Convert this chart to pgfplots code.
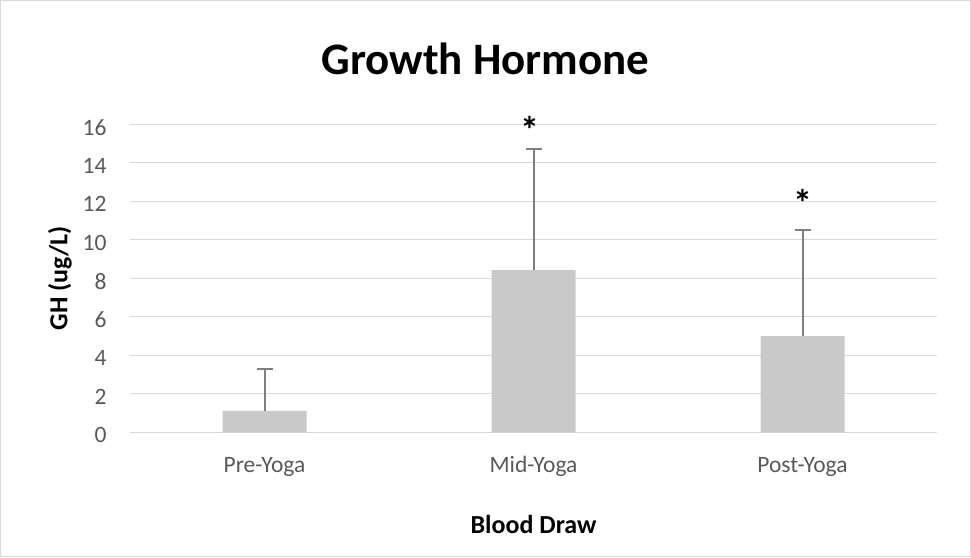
\documentclass[border=0pt]{standalone}
\usepackage{pgfplots}
\pgfplotsset{compat=1.18}
\usepackage{fontspec}
\setmainfont{Carlito}
\definecolor{barfill}{HTML}{C9C9C9}
\definecolor{errcol}{HTML}{7F7F7F}
\definecolor{gridcol}{HTML}{D9D9D9}
\definecolor{tickcol}{HTML}{595959}
\begin{document}
\begin{tikzpicture}[x=1pt,y=1pt]
\useasboundingbox (0,0) rectangle (971,557);
\draw[gridcol, line width=1pt] (0.8,0.8) rectangle (970.2,556.2);
\node[anchor=base, font=\fontsize{45}{50}\selectfont\bfseries] at (485.5,482) {Growth Hormone};
\begin{axis}[
  at={(130pt,124.7pt)}, anchor=south west,
  scale only axis, width=807pt, height=308pt,
  clip=false,
  xmin=-0.5, xmax=2.5, ymin=0, ymax=16,
  xtick={0,1,2}, xticklabels={Pre-Yoga,Mid-Yoga,Post-Yoga},
  ytick={0,2,4,6,8,10,12,14,16},
  major tick length=0pt,
  axis line style={draw=none},
  ymajorgrids, grid style={gridcol, line width=1.3pt},
  /pgf/number format/assume math mode=true,
  tick label style={font=\fontsize{23.5}{28}\selectfont, text=tickcol, inner sep=0pt},
  yticklabel style={anchor=east, xshift=-23.3pt, yshift=-3pt},
  xticklabel style={anchor=base, yshift=-40pt},
  xlabel={Blood Draw}, ylabel={GH (ug/L)},
  every axis x label/.style={at={(axis description cs:0.5,0)}, anchor=base, yshift=-101pt,
     font=\fontsize{26}{30}\selectfont\bfseries, text=black, inner sep=0pt},
  every axis y label/.style={at={(axis description cs:0,0.5)}, xshift=-70pt, rotate=90, anchor=center,
     font=\fontsize{26}{30}\selectfont\bfseries, text=black, inner sep=0pt},
]
\addplot[ybar, bar width=84pt, fill=barfill, draw=none,
  error bars/.cd, y dir=plus, y explicit,
  error bar style={line width=2pt, errcol},
  error mark options={rotate=90, mark size=8pt, line width=2pt, errcol}]
  coordinates {(0,1.11) +- (0,2.16) (1,8.42) +- (0,6.30) (2,5.00) +- (0,5.49)};
\addplot[draw=none, mark=none, nodes near coords={*},
  every node near coord/.style={anchor=center, yshift=-6.5pt, font=\fontsize{38}{42}\selectfont\bfseries, text=black, inner sep=0pt}]
  coordinates {(0.985,16.05) (2,12.27)};
\end{axis}
\end{tikzpicture}
\end{document}
